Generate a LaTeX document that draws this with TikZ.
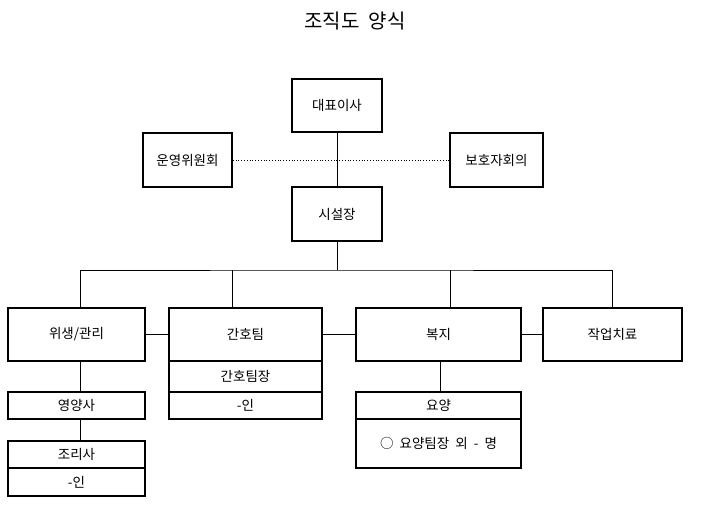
\documentclass[tikz,border=0pt]{standalone}
\usepackage{fontspec}
\setmainfont{Noto Sans CJK KR}
\begin{document}
\begin{tikzpicture}[x=1pt,y=-1pt,
  bx/.style={draw,line width=1.6pt,inner sep=0pt,font=\fontsize{13.5}{15}\selectfont},
  ln/.style={line width=0.8pt}]
\useasboundingbox (0,0) rectangle (712,505);
\node[font=\fontsize{20}{24}\selectfont] (title) at (355,21) {조직도\ \ 양식};
\newcommand{\bxat}[6]{\node[bx,minimum width=#4-#2,minimum height=#5-#3] (#1) at ({(#2+#4)/2},{(#3+#5)/2}) {#6};}
\bxat{ceo}{292}{79}{382}{132}{대표이사}
\bxat{com}{143}{133}{232}{187}{운영위원회}
\bxat{par}{450}{133}{543}{187}{보호자회의}
\bxat{dir}{292}{187}{382}{241}{시설장}
\bxat{hyg}{8}{308}{145}{361}{위생/관리}
\bxat{nur}{169}{308}{322}{361}{간호팀}
\bxat{nurh}{169}{361}{322}{392}{간호팀장}
\bxat{nurn}{169}{392}{322}{419}{-인}
\bxat{wel}{356}{308}{521}{361}{복지}
\bxat{occ}{543}{308}{682}{361}{작업치료}
\bxat{diet}{8}{392}{145}{419}{영양사}
\bxat{cook}{8}{441}{145}{468}{조리사}
\bxat{cookn}{8}{468}{145}{496}{-인}
\bxat{care}{356}{392}{521}{419}{요양}
\bxat{caren}{356}{419}{521}{468}{○\ \ 요양팀장\ \ 외\ \ -\ \ 명}
\draw[ln] (ceo) -- (dir);
\draw[ln,dotted] (com) -- (par);
\coordinate (bus) at (337,270);
\draw[ln] (dir.south) -- (bus);
\draw[ln] (hyg.north -| 80,0) |- (bus) -| (occ.north -| 612,0);
\draw[ln] (nur.north -| 232,0) -- (232,270);
\draw[ln] (wel.north -| 450,0) -- (450,270);
\draw[ln] (hyg) -- (nur);
\draw[ln] (nur) -- (wel);
\draw[ln] (wel) -- (occ);
\draw[ln] (hyg.south -| 80,0) -- (diet.north -| 80,0);
\draw[ln] (diet.south -| 80,0) -- (cook.north -| 80,0);
\draw[ln] (wel.south -| 440,0) -- (care.north -| 440,0);
\end{tikzpicture}
\end{document}
